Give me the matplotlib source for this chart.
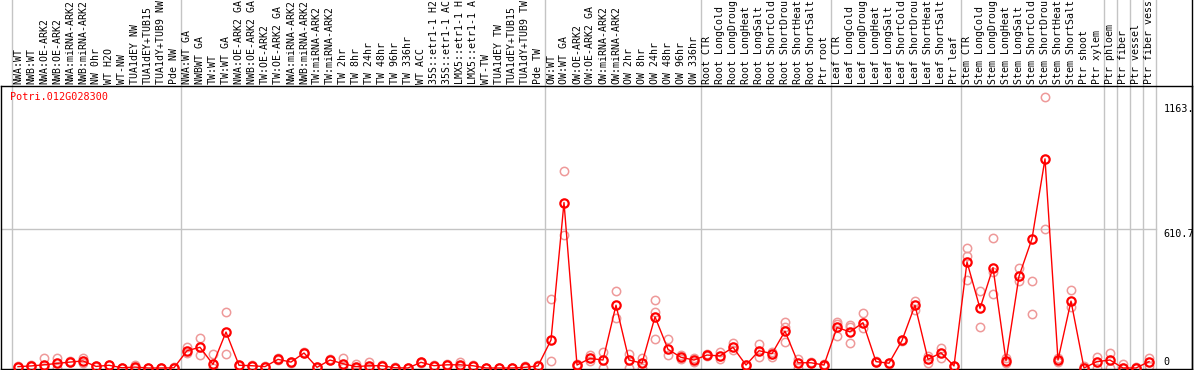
import numpy as np
import matplotlib
matplotlib.use('Agg')
import matplotlib.pyplot as plt
from matplotlib.transforms import blended_transform_factory

plt.rcParams['font.family'] = 'DejaVu Sans Mono'

gene = 'Potri.012G028300'

# sample names as far as the header shows them
samples = [
    'NWA:WT', 'NWB:WT', 'NWA:OE-ARK2', 'NWB:OE-ARK2', 'NWA:miRNA-ARK2', 'NWB:miRNA-ARK2',
    'NW 0hr', 'WT H2O', 'WT-NW', 'TUA1dEY NW', 'TUA1dEY+TUB15', 'TUA1dY+TUB9 NW', 'Pde NW',
    'NWA:WT GA', 'NWBWT GA', 'TW:WT', 'TW:WT GA', 'NWA:OE-ARK2 GA', 'NWB:OE-ARK2 GA',
    'TW:OE-ARK2', 'TW:OE-ARK2 GA', 'NWA:miRNA-ARK2', 'NWB:miRNA-ARK2', 'TW:miRNA-ARK2',
    'TW:miRNA-ARK2', 'TW 2hr', 'TW 8hr', 'TW 24hr', 'TW 48hr', 'TW 96hr', 'TW 336hr',
    'WT ACC', '35S::etr1-1 H2', '35S::etr1-1 AC', 'LMX5::etr1-1 H', 'LMX5::etr1-1 A',
    'WT-TW', 'TUA1dEY TW', 'TUA1dEY+TUB15', 'TUA1dY+TUB9 TW', 'Pde TW',
    'OW:WT', 'OW:WT GA', 'OW:OE-ARK2', 'OW:OE-ARK2 GA', 'OW:miRNA-ARK2', 'OW:miRNA-ARK2',
    'OW 2hr', 'OW 8hr', 'OW 24hr', 'OW 48hr', 'OW 96hr', 'OW 336hr',
    'Root CTR', 'Root LongCold', 'Root LongDroug', 'Root LongHeat', 'Root LongSalt',
    'Root ShortCold', 'Root ShortDrou', 'Root ShortHeat', 'Root ShortSalt', 'Ptr root',
    'Leaf CTR', 'Leaf LongCold', 'Leaf LongDroug', 'Leaf LongHeat', 'Leaf LongSalt',
    'Leaf ShortCold', 'Leaf ShortDrou', 'Leaf ShortHeat', 'Leaf ShortSalt', 'Ptr leaf',
    'Stem CTR', 'Stem LongCold', 'Stem LongDroug', 'Stem LongHeat', 'Stem LongSalt',
    'Stem ShortCold', 'Stem ShortDrou', 'Stem ShortHeat', 'Stem ShortSalt', 'Ptr shoot',
    'Ptr xylem', 'Ptr phloem', 'Ptr fiber', 'Ptr vessel', 'Ptr fiber vess',
]

means = [
    6, 9, 14, 20, 26, 31, 7, 12, 1, 4, 0, 0, 1,
    76, 91, 16, 158, 12, 10, 6, 38, 26, 66, 3, 35, 19, 6, 10, 10, 1, 0,
    25, 10, 14, 14, 10, 0, 0, 0, 3, 9,
    123, 727, 13, 42, 35, 276, 35, 21, 225, 82, 47, 35,
    57, 53, 91, 13, 76, 63, 162, 23, 23, 13,
    178, 159, 199, 28, 21, 121, 276, 38, 67, 9,
    466, 262, 441, 32, 403, 568, 919, 35, 294, 0, 28,
    35, 0, 0, 28,
]

replicates = [
    [4, 10], [8, 14], [44, 0], [44, 0], [26, 30], [44, 20], [5, 9], [12, 14], [0, 2], [12, 0],
    [0, 0], [0, 0], [0, 3],
    [91, 64], [130, 57], [60, 0], [248, 61], [10, 14], [8, 12], [4, 8], [36, 42], [28, 22],
    [64, 70], [0, 5], [33, 38], [44, 0], [16, 0], [26, 2], [12, 8], [0, 3], [0, 0],
    [28, 22], [12, 8], [16, 12], [26, 8], [12, 8], [0, 0], [0, 0], [0, 0], [8, 0], [11, 7],
    [302, 31], [866, 586], [18, 8], [57, 30], [71, 0], [337, 218], [61, 0], [42, 0],
    [298, 244, 126], [127, 57], [55, 40], [45, 25],
    [60, 52], [69, 38], [111, 80], [13, 10], [105, 48], [70, 50], [200, 180, 113], [40, 0],
    [25, 20], [16, 8],
    [203, 195, 142], [188, 178, 111], [240, 174], [30, 26], [24, 18], [124, 118], [295, 254],
    [52, 22], [89, 45], [10, 7],
    [529, 491, 386], [337, 178], [573, 327, 420], [45, 20], [441, 381], [381, 237],
    [612, 1190], [45, 25], [342, 269], [10, 0], [47, 0],
    [67, 0], [16, 0], [5, 0], [42, 8],
]

# group boundaries (after these sample numbers)
group_ends = [0, 13, 41, 53, 63, 73, 84, 85, 86, 87, 88]

y_ticks = [1163, 610.7, 0]
y_tick_labels = ['1163.', '610.7', '0']

W, H = 1194, 370
fig = plt.figure(figsize=(W / 100, H / 100), dpi=100)
ax = fig.add_axes([1 / W, 1 / H, 1191 / W, 283 / H])

x = np.arange(1, len(samples) + 1)
ax.set_xlim(-0.3077, -0.3077 + 1191 / 13)
ax.set_ylim(-4.4, 1239)
ax.set_xticks([])
ax.set_yticks([])
for s in ax.spines.values():
    s.set_color('black')
    s.set_linewidth(1)

grey = '#c4c4c4'
bt = blended_transform_factory(ax.transData, fig.transFigure)

# group separators run through the header too
for g in group_ends:
    ax.plot([g + 0.5, g + 0.5], [0, 1], transform=bt, color=grey, lw=1,
            clip_on=False, zorder=1)
# right border full height
ax.plot([1191.5 / W, 1191.5 / W], [0, 1], transform=fig.transFigure, color='black',
        lw=1, clip_on=False)

# horizontal grid at middle tick
x_right = (group_ends[-1] + 0.5 + 0.3077) / (1191 / 13)
ax.axhline(610.7, xmin=0, xmax=x_right, color=grey, lw=1, zorder=1)

# header labels
for xi, lab in zip(x, samples):
    ax.text(xi, (H - 84) / H, lab, transform=bt, rotation=90, ha='center', va='bottom',
            fontsize=7.1, color='black', clip_on=False)

# replicates
for xi, reps in zip(x, replicates):
    ax.plot([xi] * len(reps), reps, 'o', ms=6, mfc='none', mec='#ee9999', mew=1.1,
            zorder=2, clip_on=False)

ax.plot(x, means, '-', color='#ff0000', lw=1, zorder=3)
ax.plot(x, means, 'o', ms=6, mfc='none', mec='#ff0000', mew=1.6, zorder=4,
        clip_on=False)

# value labels on the right
for v, t in zip(y_ticks, y_tick_labels):
    va = 'bottom' if v == 0 else 'top'
    ax.text(89.1, v + (6 if v == 0 else -2), t, ha='left', va=va, fontsize=7.3,
            color='black')

ax.text(0.38, 0.962, gene, transform=blended_transform_factory(ax.transData, ax.transAxes),
        ha='left', va='center', fontsize=7.3, color='#ff0000')

fig.savefig('out.png', dpi=100)
